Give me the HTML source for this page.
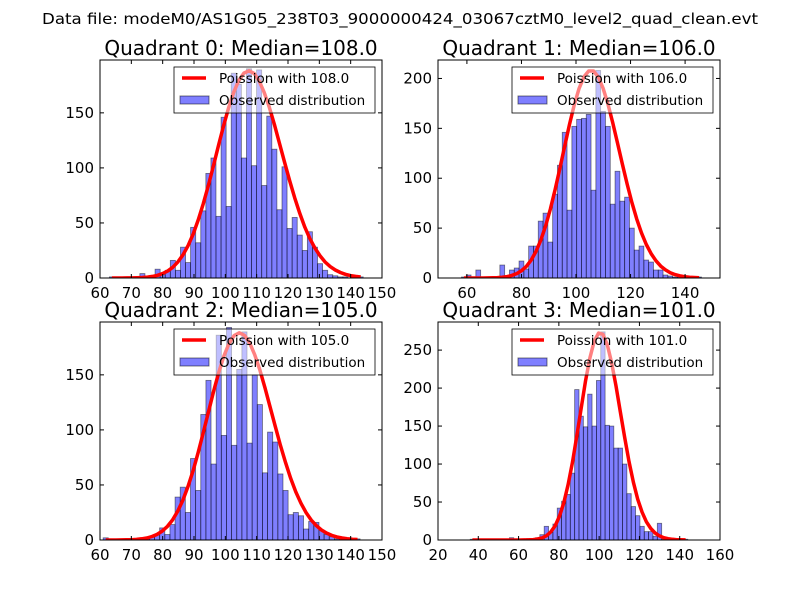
<!DOCTYPE html>
<html><head><meta charset="utf-8"><style>
body{margin:0;background:#fff;}
svg text{font-family:"DejaVu Sans","Liberation Sans",sans-serif;}
</style></head><body>
<svg id="fig" width="800" height="600" xmlns="http://www.w3.org/2000/svg">
<rect width="800" height="600" fill="#fff"/>
<text x="400" y="24" text-anchor="middle" font-size="15" textLength="716" lengthAdjust="spacingAndGlyphs">Data file: modeM0/AS1G05_238T03_9000000424_03067cztM0_level2_quad_clean.evt</text>
</svg>
<script>
// Quadrant 0
const q0Counts=[1,0,0,1,0,1,4,1,2,8,3,7,16,7,28,14,46,32,61,95,109,56,146,65,186,176,109,190,102,189,84,147,117,62,101,45,55,39,25,42,28,13,7,3,2,1,1,0,0,1];
const q0Range=[63,144];
const q0Median=108.0;
const q0Peak=188;
// Quadrant 1
const q1Counts=[1,3,0,8,0,1,1,1,13,0,8,10,17,9,32,32,57,65,36,84,113,146,68,152,159,160,164,88,208,167,152,74,107,77,81,50,28,32,18,16,8,8,3,2,1,1,0,1,0,1];
const q1Range=[58,146];
const q1Median=106.0;
const q1Peak=208;
// Quadrant 2
const q2Counts=[2,0,0,0,0,0,1,1,1,3,5,11,5,14,39,48,25,74,45,114,145,69,186,95,193,86,155,189,88,150,123,61,98,89,60,45,23,25,22,10,17,16,9,5,3,1,1,0,0,1];
const q2Range=[61,143];
const q2Median=105.0;
const q2Peak=188;
// Quadrant 3
const q3Counts=[1,0,0,0,0,0,0,0,0,3,0,0,0,2,1,3,7,18,10,21,42,51,60,88,198,163,149,192,150,210,274,151,150,121,121,100,61,44,32,18,11,11,5,22,1,0,0,0,0,1];
const q3Range=[36,144];
const q3Median=101.0;
const q3Peak=273;
// Axis ticks
const q0XTicks=[60,70,80,90,100,110,120,130,140,150];
const q0YTicks=[0,50,100,150];
const q1XTicks=[60,80,100,120,140];
const q1YTicks=[0,50,100,150,200];
const q2XTicks=[60,70,80,90,100,110,120,130,140,150];
const q2YTicks=[0,50,100,150];
const q3XTicks=[20,40,60,80,100,120,140,160];
const q3YTicks=[0,50,100,150,200,250];

const NS='http://www.w3.org/2000/svg';
const svg=document.getElementById('fig');
function mk(tag,attrs,parent){const e=document.createElementNS(NS,tag);for(const k in attrs)e.setAttribute(k,attrs[k]);(parent||svg).appendChild(e);return e;}
function lgamma(z){
  let s=0;while(z<8){s-=Math.log(z);z+=1;}
  return s+(z-0.5)*Math.log(z)-z+0.5*Math.log(2*Math.PI)+1/(12*z)-1/(360*z*z*z);
}
function pmf(k,mu){return Math.exp(k*Math.log(mu)-mu-lgamma(k+1));}

function panel(idx,box,xlim,ylim,counts,range,median,peak,xticks,yticks){
  const [L,T,R,B]=box;
  const g=mk('g',{});
  
  
  const sx=v=>L+(v-xlim[0])/(xlim[1]-xlim[0])*(R-L);
  const sy=v=>B-(v-ylim[0])/(ylim[1]-ylim[0])*(B-T);
  const clipId='clip'+idx;
  const cp=mk('clipPath',{id:clipId},g);mk('rect',{x:L,y:T,width:R-L,height:B-T},cp);
  const plot=mk('g',{'clip-path':'url(#'+clipId+')'},g);
  const n=counts.length,bw=(range[1]-range[0])/n;
  counts.forEach((c,i)=>{
    const x0=sx(range[0]+i*bw),x1=sx(range[0]+(i+1)*bw);
    const r=mk('rect',{x:x0,y:sy(c),width:x1-x0,height:sy(0)-sy(c),fill:'rgba(0,0,255,0.5)',stroke:'rgba(0,0,0,0.5)','stroke-width':0.8},plot);
    
    
  });
  const pm=pmf(median,median);
  let d='';
  for(let i=0;i<n;i++){
    const k=range[0]+(i+0.5)*bw;
    const v=peak*pmf(k,median)/pm;
    d+=(i?'L':'M')+sx(k).toFixed(1)+','+sy(v).toFixed(1);
  }
  const ln=mk('path',{d:d,fill:'none',stroke:'#f00','stroke-width':3.5,'stroke-linejoin':'round'},plot);
  
  
  xticks.forEach(t=>{
    const x=sx(t);
    mk('line',{x1:x,y1:B,x2:x,y2:B-4,stroke:'#000'},g);
    mk('line',{x1:x,y1:T,x2:x,y2:T+4,stroke:'#000'},g);
    const tx=mk('text',{x:x,y:B+20,'text-anchor':'middle','font-size':15},g);tx.textContent=t;
    
    
  });
  yticks.forEach(t=>{
    const y=sy(t);
    mk('line',{x1:L,y1:y,x2:L+4,y2:y,stroke:'#000'},g);
    mk('line',{x1:R,y1:y,x2:R-4,y2:y,stroke:'#000'},g);
    const tx=mk('text',{x:L-6,y:y+5,'text-anchor':'end','font-size':15},g);tx.textContent=t;
    
    
  });
  mk('rect',{x:L,y:T,width:R-L,height:B-T,fill:'none',stroke:'#000','stroke-width':1},g);
  const tt=mk('text',{x:(L+R)/2,y:T-5,'text-anchor':'middle','font-size':20},g);
  tt.textContent='Quadrant '+idx+': Median='+median.toFixed(1);
  
  
  const lg=mk('g',{},g);
  
  
  const lx=R-208,ly=T+7;
  mk('rect',{x:lx,y:ly,width:201,height:46,fill:'rgba(255,255,255,0.5)',stroke:'#000','stroke-width':0.8},lg);
  mk('line',{x1:lx+8,y1:ly+11,x2:lx+32,y2:ly+11,stroke:'#f00','stroke-width':3.5},lg);
  const t1=mk('text',{x:lx+45,y:ly+16,'font-size':13.5},lg);t1.textContent='Poission with '+median.toFixed(1);
  
  
  mk('rect',{x:lx+6,y:ly+29,width:29,height:8,fill:'rgba(0,0,255,0.5)',stroke:'rgba(0,0,0,0.5)'},lg);
  const t2=mk('text',{x:lx+45,y:ly+38,'font-size':13.5},lg);t2.textContent='Observed distribution';
  
  
}
panel(0,[100,60,382,278],[60,150],[0,198],q0Counts,q0Range,q0Median,q0Peak,q0XTicks,q0YTicks);
panel(1,[438,60,720,278],[49.4,152.8],[0,218.5],q1Counts,q1Range,q1Median,q1Peak,q1XTicks,q1YTicks);
panel(2,[100,322,382,540],[60,150],[0,198],q2Counts,q2Range,q2Median,q2Peak,q2XTicks,q2YTicks);
panel(3,[438,322,720,540],[20,160],[0,287],q3Counts,q3Range,q3Median,q3Peak,q3XTicks,q3YTicks);
</script>
</body></html>
